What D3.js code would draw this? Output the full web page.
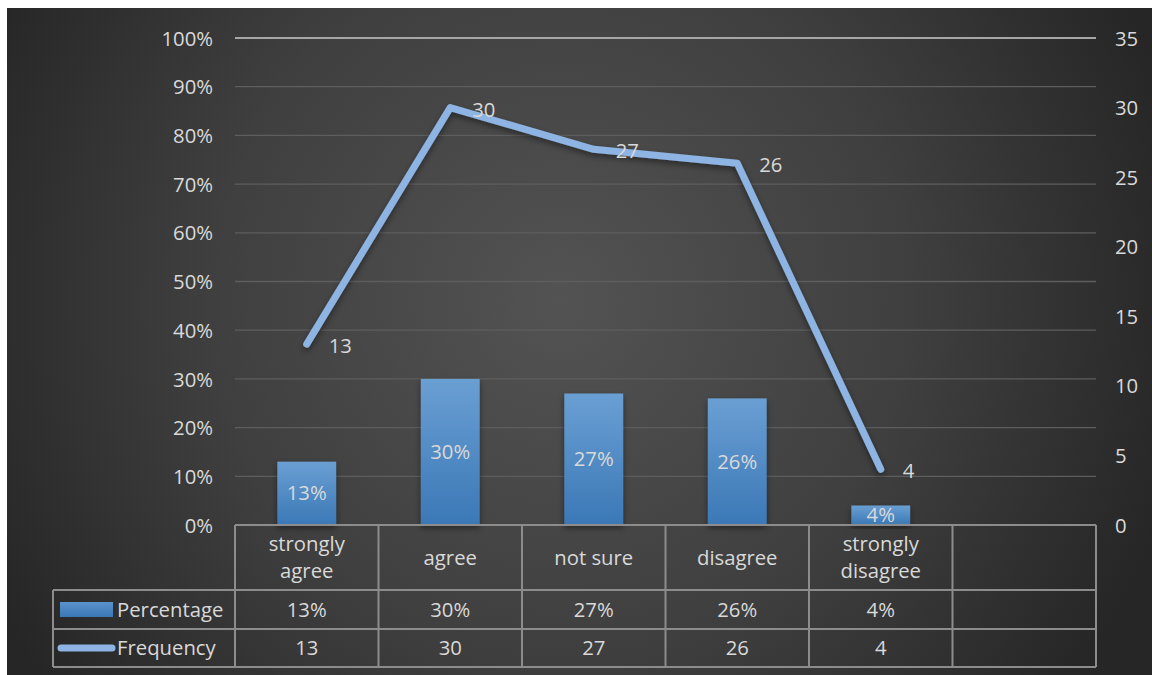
<!DOCTYPE html>
<html>
<head>
<meta charset="utf-8">
<script src="https://cdn.jsdelivr.net/npm/d3@7"></script>
<style>
  html, body { margin: 0; padding: 0; background: #ffffff; }
  svg { display: block; }
  text { font-family: "Open Sans", Lato, sans-serif; fill: #d9d9d9; }
</style>
</head>
<body>
<svg id="chart" width="1152" height="675"></svg>
<script>
// Survey responses
const categories = ["strongly agree", "agree", "not sure", "disagree", "strongly disagree", ""];
const percentage = [0.13, 0.30, 0.27, 0.26, 0.04, null];
const frequency = [13, 30, 27, 26, 4, null];
const percentTicks = [0, 0.1, 0.2, 0.3, 0.4, 0.5, 0.6, 0.7, 0.8, 0.9, 1.0];
const countTicks = [0, 5, 10, 15, 20, 25, 30, 35];
const seriesNames = ["Percentage", "Frequency"];

const W = 1152, H = 675;
const FS = 20.3;
const plot = { left: 235, right: 1096, top: 38, bottom: 525 };
const table = { left: 53, headerBottom: 590, row1Bottom: 629, bottom: 667 };

const svg = d3.select("#chart");
const defs = svg.append("defs");

// Dark radial backdrop
const bg = defs.append("radialGradient").attr("id", "bg")
  .attr("gradientUnits", "userSpaceOnUse")
  .attr("cx", 560).attr("cy", 300).attr("r", 640);
bg.append("stop").attr("offset", "0%").attr("stop-color", "#535353");
bg.append("stop").attr("offset", "55%").attr("stop-color", "#3f3f3f");
bg.append("stop").attr("offset", "100%").attr("stop-color", "#262626");

const barGrad = defs.append("linearGradient").attr("id", "barGrad")
  .attr("x1", 0).attr("y1", 0).attr("x2", 0).attr("y2", 1);
barGrad.append("stop").attr("offset", "0%").attr("stop-color", "#6a9fd3");
barGrad.append("stop").attr("offset", "100%").attr("stop-color", "#3b78b6");

const legendGrad = defs.append("linearGradient").attr("id", "legendGrad")
  .attr("x1", 0).attr("y1", 0).attr("x2", 0).attr("y2", 1);
legendGrad.append("stop").attr("offset", "0%").attr("stop-color", "#5b93cc");
legendGrad.append("stop").attr("offset", "100%").attr("stop-color", "#3a77b4");

const shadow = defs.append("filter").attr("id", "shadow")
  .attr("x", "-10%").attr("y", "-10%").attr("width", "120%").attr("height", "130%");
shadow.append("feDropShadow").attr("dx", 0).attr("dy", 3).attr("stdDeviation", 3)
  .attr("flood-color", "#000").attr("flood-opacity", 0.45);

svg.append("rect").attr("x", 7).attr("y", 8).attr("width", W - 7).attr("height", H - 8)
  .attr("fill", "url(#bg)");

// Scales
const x = d3.scaleBand().domain(d3.range(categories.length))
  .range([plot.left, plot.right]).paddingInner(0).paddingOuter(0);
const yPct = d3.scaleLinear().domain([0, 1]).range([plot.bottom, plot.top]);
const yCnt = d3.scaleLinear().domain([0, 35]).range([plot.bottom, plot.top]);

// Gridlines
svg.append("g").selectAll("line").data(percentTicks.filter(t => t > 0)).join("line")
  .attr("x1", plot.left).attr("x2", plot.right)
  .attr("y1", d => yPct(d)).attr("y2", d => yPct(d))
  .attr("stroke", d => d === 1 ? "#a6a6a6" : "#5e5e5e")
  .attr("stroke-width", d => d === 1 ? 2 : 1.3);

// Axes
const leftAxis = svg.append("g").attr("transform", `translate(${plot.left - 22},0)`)
  .call(d3.axisLeft(yPct).tickValues(percentTicks).tickFormat(d3.format(".0%")).tickSize(0).tickPadding(0));
const rightAxis = svg.append("g").attr("transform", `translate(${plot.right + 19},0)`)
  .call(d3.axisRight(yCnt).tickValues(countTicks).tickSize(0).tickPadding(0));
[leftAxis, rightAxis].forEach(a => {
  a.select(".domain").remove();
  a.selectAll("text").attr("font-size", FS).attr("fill", "#d9d9d9")
    .attr("font-family", "'Open Sans', Lato, sans-serif").attr("dy", "0.35em");
});

// Bars
const barW = x.bandwidth() * 0.41;
const idx = d3.range(categories.length).filter(i => percentage[i] != null);
svg.append("g").selectAll("rect").data(idx).join("rect")
  .attr("x", i => x(i) + (x.bandwidth() - barW) / 2)
  .attr("y", i => yPct(percentage[i]))
  .attr("width", barW)
  .attr("height", i => yPct(0) - yPct(percentage[i]))
  .attr("fill", "url(#barGrad)")
  .attr("filter", "url(#shadow)");

svg.append("g").selectAll("text").data(idx).join("text")
  .attr("x", i => x(i) + x.bandwidth() / 2)
  .attr("y", i => (yPct(percentage[i]) + yPct(0)) / 2)
  .attr("dy", "0.35em").attr("text-anchor", "middle").attr("font-size", FS)
  .text(i => d3.format(".0%")(percentage[i]));

// Frequency line
const fIdx = d3.range(categories.length).filter(i => frequency[i] != null);
const line = d3.line().x(i => x(i) + x.bandwidth() / 2).y(i => yCnt(frequency[i]));
svg.append("path").datum(fIdx).attr("d", line)
  .attr("fill", "none").attr("stroke", "#8eb4e3").attr("stroke-width", 7)
  .attr("stroke-linejoin", "round").attr("stroke-linecap", "round")
  .attr("filter", "url(#shadow)");

svg.append("g").selectAll("text").data(fIdx).join("text")
  .attr("x", i => x(i) + x.bandwidth() / 2 + 22)
  .attr("y", i => yCnt(frequency[i]) + 2)
  .attr("dy", "0.35em").attr("font-size", FS)
  .text(i => frequency[i]);

// Data table
const tbl = svg.append("g").attr("stroke", "#8c8c8c").attr("stroke-width", 2).attr("fill", "none");
tbl.append("line").attr("x1", plot.left).attr("x2", plot.right).attr("y1", plot.bottom).attr("y2", plot.bottom);
[table.headerBottom, table.row1Bottom, table.bottom].forEach(yy =>
  tbl.append("line").attr("x1", table.left).attr("x2", plot.right).attr("y1", yy).attr("y2", yy));
tbl.append("line").attr("x1", table.left).attr("x2", table.left)
  .attr("y1", table.headerBottom).attr("y2", table.bottom);
d3.range(categories.length + 1).forEach(i => {
  const xx = i < categories.length ? x(i) : plot.right;
  tbl.append("line").attr("x1", xx).attr("x2", xx).attr("y1", plot.bottom).attr("y2", table.bottom);
});

// header cells: category names, wrapped when wider than the cell
const headerMid = (plot.bottom + table.headerBottom) / 2;
categories.forEach((c, i) => {
  if (!c) return;
  const cx = x(i) + x.bandwidth() / 2;
  const t = svg.append("text").attr("text-anchor", "middle").attr("font-size", FS)
    .attr("x", cx).attr("y", headerMid).attr("dy", "0.35em").text(c);
  if (t.node().getComputedTextLength() > x.bandwidth() - 16) {
    const words = c.split(" ");
    t.text(null);
    const lineH = 27;
    words.forEach((w, k) => {
      t.append("tspan").attr("x", cx)
        .attr("y", headerMid + (k - (words.length - 1) / 2) * lineH)
        .attr("dy", "0.35em").text(w);
    });
  }
});

// value rows
const row1Mid = (table.headerBottom + table.row1Bottom) / 2;
const row2Mid = (table.row1Bottom + table.bottom) / 2;
categories.forEach((c, i) => {
  const cx = x(i) + x.bandwidth() / 2;
  if (percentage[i] != null)
    svg.append("text").attr("x", cx).attr("y", row1Mid).attr("dy", "0.35em")
      .attr("text-anchor", "middle").attr("font-size", FS).text(d3.format(".0%")(percentage[i]));
  if (frequency[i] != null)
    svg.append("text").attr("x", cx).attr("y", row2Mid).attr("dy", "0.35em")
      .attr("text-anchor", "middle").attr("font-size", FS).text(frequency[i]);
});

// legend keys in the table
svg.append("rect").attr("x", 60).attr("y", row1Mid - 7.5).attr("width", 53).attr("height", 15)
  .attr("fill", "url(#legendGrad)");
svg.append("line").attr("x1", 61).attr("x2", 112).attr("y1", row2Mid).attr("y2", row2Mid)
  .attr("stroke", "#8eb4e3").attr("stroke-width", 7).attr("stroke-linecap", "round");
svg.append("text").attr("x", 117).attr("y", row1Mid).attr("dy", "0.35em").attr("font-size", FS).text(seriesNames[0]);
svg.append("text").attr("x", 117).attr("y", row2Mid).attr("dy", "0.35em").attr("font-size", FS).text(seriesNames[1]);
</script>
</body>
</html>
